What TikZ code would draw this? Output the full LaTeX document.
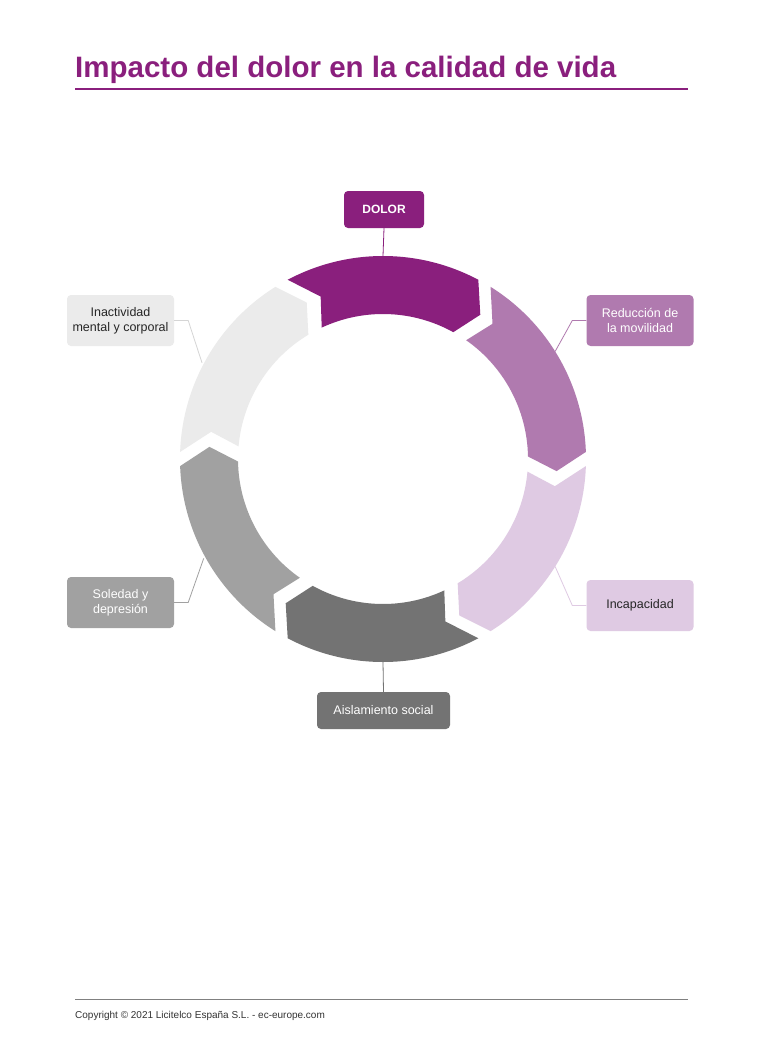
\documentclass[tikz,border=0pt]{standalone}
\usepackage{fontspec}
\setmainfont{Liberation Sans}
\begin{document}
\definecolor{cA}{HTML}{8A1F7D}
\definecolor{cB}{HTML}{B07AAF}
\definecolor{cC}{HTML}{DFCAE3}
\definecolor{cD}{HTML}{737373}
\definecolor{cE}{HTML}{A1A1A1}
\definecolor{cF}{HTML}{EBEBEB}
\begin{tikzpicture}[x=1pt,y=1pt,
  box/.style={rounded corners=4pt,minimum height=37pt,inner sep=2pt,align=center,font=\fontsize{12.5}{15}\selectfont},
  box2/.style={box,minimum width=107pt,minimum height=51pt},
  con/.style={line width=0.8pt}]
\useasboundingbox (0,0) rectangle (764,-1046);
\fill[white] (0,0) rectangle (764,-1046);
\node[anchor=base west,text=cA,font=\fontsize{29.5}{34}\bfseries\selectfont,inner sep=0] (title) at (75,-78) {Impacto del dolor en la calidad de vida};
\draw[cA,line width=2pt] (75,-89) -- (688,-89);
\draw[gray,line width=0.6pt] (75,-999) -- (688,-999);
\node[anchor=base west,inner sep=0,font=\fontsize{10}{12}\selectfont,text=black!80] (copy) at (75,-1018) {Copyright © 2021 Licitelco España S.L. - ec-europe.com};
\begin{scope}[shift={(383,-459)}]
\foreach \c/\col in {90/cA,30/cB,-30/cC,-90/cD,-150/cE,150/cF}{
  \fill[\col] (\c+28:203) arc[start angle=\c+28,end angle=\c-28,radius=203] -- (\c-34:174) -- (\c-29:145) arc[start angle=\c-29,end angle=\c+25,radius=145] -- (\c+21:174) -- cycle;
}
\coordinate (pA) at (90:203);
\coordinate (pB) at (32:203);
\coordinate (pC) at (-32:203);
\coordinate (pD) at (-90:203);
\coordinate (pE) at (-151:205);
\coordinate (pF) at (152:205);
\end{scope}
\node[box,fill=cA,text=white,minimum width=80pt,font=\fontsize{12}{14}\bfseries\selectfont] (dolor) at (384,-209.5) {DOLOR};
\node[box2,fill=cB,text=white] (red) at (640,-320.5) {Reducción de\\la movilidad};
\node[box2,fill=cC,text=black!85] (inc) at (640,-605.5) {Incapacidad};
\node[box,fill=cD,text=white,minimum width=133pt] (ais) at (383.5,-710.5) {Aislamiento social};
\node[box2,fill=cE,text=white] (sol) at (120.5,-602.5) {Soledad y\\depresión};
\node[box2,fill=cF,text=black!85] (ina) at (120.5,-320.5) {Inactividad\\mental y corporal};
\draw[con,cA] (dolor.south) -- (pA);
\draw[con,cB] (red.west) -- ++(-14,0) -- (pB);
\draw[con,cC] (inc.west) -- ++(-14,0) -- (pC);
\draw[con,cD] (ais.north) -- (pD);
\draw[con,cE] (sol.east) -- ++(14,0) -- (pE);
\draw[con,cF!80!gray] (ina.east) -- ++(14,0) -- (pF);
\end{tikzpicture}
\end{document}
